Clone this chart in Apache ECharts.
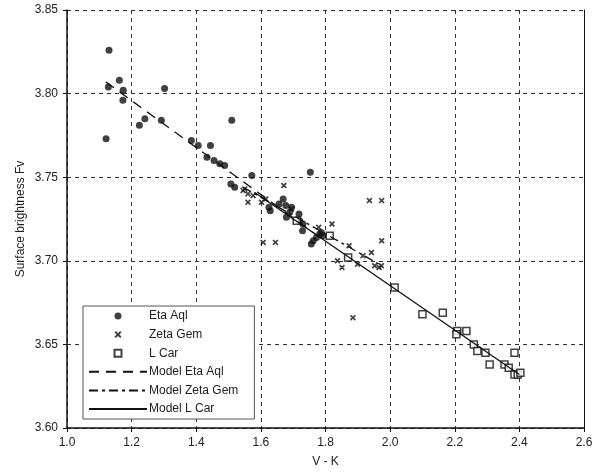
<!DOCTYPE html>
<html>
<head>
<meta charset="utf-8">
<script src="https://cdn.jsdelivr.net/npm/echarts@6/dist/echarts.min.js"></script>
<style>html,body{margin:0;padding:0;background:#fff;}#c{width:597px;height:474px;}</style>
</head>
<body>
<div id="c"></div>
<script>
// Data: [V-K, Fv]
var etaAql = [[1.121,3.773],[1.128,3.804],[1.130,3.826],[1.162,3.808],[1.174,3.802],[1.173,3.796],[1.224,3.781],[1.241,3.785],[1.292,3.784],[1.302,3.803],[1.385,3.772],[1.406,3.769],[1.444,3.769],[1.433,3.762],[1.455,3.760],[1.473,3.758],[1.488,3.757],[1.510,3.784],[1.507,3.746],[1.519,3.744],[1.572,3.751],[1.625,3.732],[1.629,3.730],[1.656,3.734],[1.669,3.737],[1.677,3.733],[1.695,3.732],[1.689,3.729],[1.679,3.726],[1.718,3.728],[1.720,3.724],[1.730,3.722],[1.729,3.718],[1.753,3.753],[1.756,3.710],[1.762,3.712],[1.772,3.714],[1.782,3.716],[1.791,3.715],[1.787,3.717]];
var zetaGem = [[1.545,3.742],[1.550,3.743],[1.560,3.740],[1.576,3.739],[1.560,3.735],[1.602,3.735],[1.615,3.737],[1.607,3.711],[1.645,3.711],[1.671,3.745],[1.695,3.731],[1.779,3.720],[1.820,3.722],[1.837,3.700],[1.851,3.696],[1.873,3.709],[1.885,3.666],[1.899,3.698],[1.916,3.703],[1.942,3.705],[1.936,3.736],[1.974,3.736],[1.974,3.712],[1.952,3.697],[1.966,3.696],[1.973,3.697]];
var lCar = [[1.711,3.724],[1.813,3.715],[1.870,3.702],[2.014,3.684],[2.100,3.668],[2.163,3.669],[2.208,3.658],[2.205,3.656],[2.236,3.658],[2.259,3.650],[2.270,3.646],[2.295,3.645],[2.308,3.638],[2.354,3.638],[2.367,3.636],[2.385,3.645],[2.385,3.632],[2.395,3.632],[2.403,3.633]];
var modelEtaAql = [[1.12,3.807],[1.79,3.713]];
var modelZetaGem = [[1.545,3.744],[1.975,3.697]];
var modelLCar = [[1.58,3.741],[2.40,3.632]];
var seriesNames = ['Eta Aql','Zeta Gem','L Car','Model Eta Aql','Model Zeta Gem','Model L Car'];
var xTitle = 'V - K';
var yTitle = 'Surface brightness Fv';

var FONT = 'Liberation Sans, Arial, sans-serif';
var INK = '#111';
var crossPath = 'path://M0,2 L2,0 L5,3 L8,0 L10,2 L7,5 L10,8 L8,10 L5,7 L2,10 L0,8 L3,5Z';
var squarePath = 'path://M0,0L10,0L10,10L0,10Z';
var HIDDEN = 'rgba(0,0,0,0)';

var chart = echarts.init(document.getElementById('c'), null, {renderer:'canvas'});
chart.setOption({
  animation:false,
  backgroundColor:'#fff',
  grid:{left:67,right:13,top:10,bottom:46,containLabel:false},
  xAxis:{
    type:'value',min:1.0,max:2.6,interval:0.2,
    name:xTitle,nameLocation:'middle',nameGap:28,nameMoveOverlap:false,
    nameTextStyle:{fontFamily:FONT,fontSize:12,color:'#222'},
    axisLine:{show:true,onZero:false,lineStyle:{color:INK,width:1.5}},
    axisTick:{show:true,inside:false,length:4,lineStyle:{color:INK}},
    axisLabel:{fontFamily:FONT,fontSize:12,color:'#222',margin:9,formatter:function(v){return v.toFixed(1);}},
    splitLine:{show:true,lineStyle:{color:'#333',type:[4,4],width:1}}
  },
  yAxis:[{
    type:'value',min:3.60,max:3.85,interval:0.05,
    name:yTitle,nameLocation:'middle',nameGap:46,nameRotate:90,nameMoveOverlap:false,
    nameTextStyle:{fontFamily:FONT,fontSize:12,color:'#222',verticalAlign:'middle'},
    axisLine:{show:true,onZero:false,lineStyle:{color:INK,width:1.5}},
    axisTick:{show:true,inside:false,length:4,lineStyle:{color:INK}},
    axisLabel:{fontFamily:FONT,fontSize:12,color:'#222',margin:9,formatter:function(v){return v.toFixed(2);}},
    splitLine:{show:true,lineStyle:{color:'#333',type:[4,4],width:1}}
  },{
    type:'value',min:3.60,max:3.85,interval:0.05,position:'right',
    axisLine:{show:true,onZero:false,lineStyle:{color:INK,width:1}},
    axisTick:{show:false},axisLabel:{show:false},splitLine:{show:false}
  }],
  legend:{
    orient:'vertical',left:83,top:306,
    padding:[4,16,4,5],
    itemWidth:58,itemHeight:7,itemGap:6.6,
    borderColor:'#555',borderWidth:1,backgroundColor:'#fff',
    textStyle:{fontFamily:FONT,fontSize:12,color:'#222',padding:[0,0,0,-3]},
    data:[
      {name:seriesNames[0]},
      {name:seriesNames[1]},
      {name:seriesNames[2],icon:squarePath},
      {name:seriesNames[3]},
      {name:seriesNames[4]},
      {name:seriesNames[5]}
    ]
  },
  series:[
    {name:seriesNames[0],type:'scatter',data:etaAql,symbol:'circle',symbolSize:7,itemStyle:{color:INK},z:3},
    {name:seriesNames[1],type:'scatter',data:zetaGem,symbol:crossPath,symbolSize:6,itemStyle:{color:INK},z:3},
    {name:seriesNames[2],type:'scatter',data:lCar,symbol:squarePath,symbolSize:7,itemStyle:{color:'#fff',borderColor:INK,borderWidth:1.5},z:3},
    {name:seriesNames[3],type:'line',data:modelEtaAql,symbol:'none',itemStyle:{color:HIDDEN,borderColor:HIDDEN},lineStyle:{color:INK,width:1.3,type:[10,7]},z:4},
    {name:seriesNames[4],type:'line',data:modelZetaGem,symbol:'none',itemStyle:{color:HIDDEN,borderColor:HIDDEN},lineStyle:{color:INK,width:1.3,type:[9,4,3,4]},z:4},
    {name:seriesNames[5],type:'line',data:modelLCar,symbol:'none',itemStyle:{color:HIDDEN,borderColor:HIDDEN},lineStyle:{color:INK,width:1.3},z:4}
  ]
});
</script>
</body>
</html>
